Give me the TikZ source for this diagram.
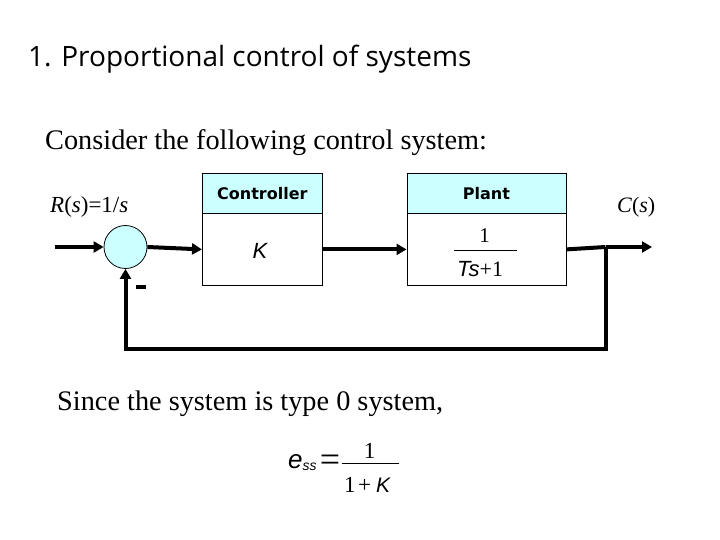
\documentclass[tikz,border=0pt]{standalone}
\usepackage{fontspec}
\setmainfont{Liberation Serif}
\newfontfamily\titlefont{Open Sans}
\newfontfamily\hdrfont{DejaVu Sans}
\newfontfamily\arialfont{Liberation Sans}
\usetikzlibrary{arrows.meta}
\definecolor{hdr}{HTML}{CCFFFF}
\begin{document}
\begin{tikzpicture}[x=1pt,y=-1pt,
  sig/.style={line width=4pt,line join=miter,-{Triangle[length=10pt,width=11pt]}},
  wire/.style={line width=4pt},
  hdrbox/.style={draw,line width=0.8pt,fill=hdr,minimum height=40pt,inner sep=0pt},
  bodybox/.style={draw,line width=0.8pt,fill=white,minimum height=72pt,inner sep=0pt},
  lbl/.style={inner sep=0pt},
  hdrtxt/.style={font=\hdrfont\bfseries\fontsize{16}{19}\selectfont},
  big/.style={font=\fontsize{28.3}{34}\selectfont}]
\useasboundingbox (0,0) rectangle (720,540);
% texts
\node[lbl,anchor=base west,font=\titlefont\fontsize{28}{32}\selectfont] (title) at (28,67) {1. Proportional control of systems};
\node[lbl,anchor=base west,big] (consider) at (45,150) {Consider the following control system:};
\node[lbl,anchor=base west,big] (since) at (57,410) {Since the system is type 0 system,};
% blocks
\node[hdrbox,minimum width=120pt,anchor=north west,hdrtxt] (chdr) at (202,173) {Controller};
\node[bodybox,minimum width=120pt,anchor=north west] (cbody) at (202,213) {};
\node[lbl,font=\arialfont\itshape\fontsize{22}{26}\selectfont] (k) at (260,251) {K};
\node[hdrbox,minimum width=159pt,anchor=north west,hdrtxt] (phdr) at (406.5,173) {Plant};
\node[bodybox,minimum width=159pt,anchor=north west] (pbody) at (406.5,213) {};
\node[lbl,anchor=base] (pnum) at (484.5,242) {\fontsize{21}{25}\selectfont 1};
\draw[line width=0.8pt] (454,250) -- (517,250);
\node[lbl,anchor=base west] (pden) at (457,276) {\arialfont\itshape\fontsize{22}{26}\selectfont Ts\rmfamily\upshape\fontsize{22}{26}\selectfont+1};
% summing junction
\node[draw,circle,line width=0.8pt,fill=hdr,minimum size=43pt,inner sep=0pt] (sum) at (125.5,247) {};
\coordinate (in) at (55,247);
\coordinate (branch) at (605.5,247);
\coordinate (out) at (652,247);
\coordinate (fb1) at (605.5,349);
\coordinate (fb2) at (125.5,349);
\draw[sig] (in) -- (sum.west);
\draw[sig] (sum.east) -- (cbody.west);
\draw[sig] (cbody.east) -- (pbody.west);
\draw[wire] (pbody.east) -- (branch);
\draw[sig] (branch) -- (out);
\draw[sig] (branch) -- (fb1) -- (fb2) -- (sum.south);
\draw[line width=3.5pt] (136,287) -- (146,287);
% labels
\node[lbl,anchor=base west,font=\fontsize{23}{27}\selectfont] (rlbl) at (50,212) {\textit{R}(\textit{s})=1/\textit{s}};
\node[lbl,anchor=base west,font=\fontsize{22}{26}\selectfont] (clbl) at (617,212) {\textit{C}(\textit{s})};
% formula
\node[lbl,anchor=base west,font=\arialfont\itshape\fontsize{26}{30}\selectfont] (ess) at (288,468) {e};
\node[lbl,anchor=base west,font=\arialfont\itshape\fontsize{14}{17}\selectfont] (ss) at (302.5,470) {ss};
\node[lbl,font=\fontsize{36}{40}\selectfont] (eq) at (330,463) {=};
\node[lbl,anchor=base] (fnum) at (369.5,458) {\fontsize{23}{27}\selectfont 1};
\draw[line width=0.8pt] (342,463) -- (399,463);
\node[lbl,anchor=base west] (fone) at (344,492) {\fontsize{23}{27}\selectfont 1};
\node[lbl,anchor=base] (fplus) at (364.5,492) {\fontsize{23}{27}\selectfont +};
\node[lbl,anchor=base west,font=\arialfont\itshape\fontsize{21}{25}\selectfont] (fk) at (376,492) {K};
\end{tikzpicture}
\end{document}
